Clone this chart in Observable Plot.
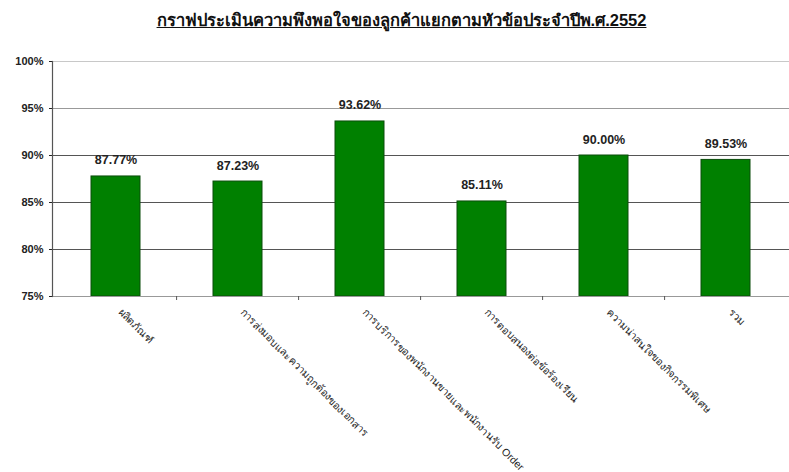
<!DOCTYPE html>
<html><head><meta charset="utf-8">
<script src="https://cdn.jsdelivr.net/npm/d3@7"></script>
<script src="https://cdn.jsdelivr.net/npm/@observablehq/plot@0.6"></script>
<style>
body{margin:0;background:#fff;font-family:Arial,"Liberation Sans",sans-serif;}
#title{height:40px;box-sizing:border-box;padding-top:7px;text-align:center;font-weight:bold;font-size:16.5px;text-decoration:underline;color:#111;padding-left:14px;}
</style></head>
<body>
<div id="title">กราฟประเมินความพึงพอใจของลูกค้าแยกตามหัวข้อประจำปีพ.ศ.2552</div>
<div id="chart"></div>
<script>
const categories = [
  "ผลิตภัณฑ์",
  "การส่งมอบและความถูกต้องของเอกสาร",
  "การบริการของพนักงานขายและพนักงานรับ Order",
  "การตอบสนองต่อข้อร้องเรียน",
  "ความน่าสนใจของกิจกรรมพิเศษ",
  "รวม"
];
const values = [87.77, 87.23, 93.62, 85.11, 90.00, 89.53];
const yTicks = [75, 80, 85, 90, 95, 100];

const data = categories.map((c, i) => ({category: c, value: values[i]}));

const plot = Plot.plot({
  width: 789,
  height: 432,
  marginLeft: 52,
  marginRight: 0,
  marginTop: 21,
  marginBottom: 176,
  style: {fontFamily: "Arial, 'Liberation Sans', sans-serif", background: "#fff"},
  x: {domain: categories, paddingInner: 0.6, paddingOuter: 0.3, label: null},
  y: {domain: [75, 100], clamp: true, label: null},
  marks: [
    Plot.ruleY(yTicks.filter(d => d > 75), {stroke: d => d === 100 ? "#c8c8c8" : d === 95 ? "#999" : "#555", strokeWidth: 1.2}),
    Plot.barY(data, {x: "category", y: "value", fill: "#008000", stroke: "#0b4d0b", strokeWidth: 1}),
    Plot.text(data, {x: "category", y: "value", text: d => d.value.toFixed(2) + "%", dy: -16, fontSize: 12.5, fontWeight: "bold", fill: "#222"}),
    Plot.axisY({ticks: yTicks, tickFormat: d => d + "%", tickSize: 3, tickPadding: 6, fontSize: 11, fontWeight: "bold", label: null, color: "#222"}),
    Plot.axisX({tickRotate: 45, tickSize: 0, tickPadding: 14, dx: 4, fontSize: 10.5, label: null, color: "#222"}),
    Plot.ruleY([75], {stroke: "#999", strokeWidth: 1.2}),
    Plot.ruleX(categories.slice(1), {x: d => d, dx: -61.4, y1: 75, y2: 75, insetBottom: -4, stroke: "#555"}),
    Plot.frame({anchor: "left", stroke: "#555", strokeWidth: 1.2})
  ]
});
document.getElementById("chart").appendChild(plot);
</script>
</body></html>
